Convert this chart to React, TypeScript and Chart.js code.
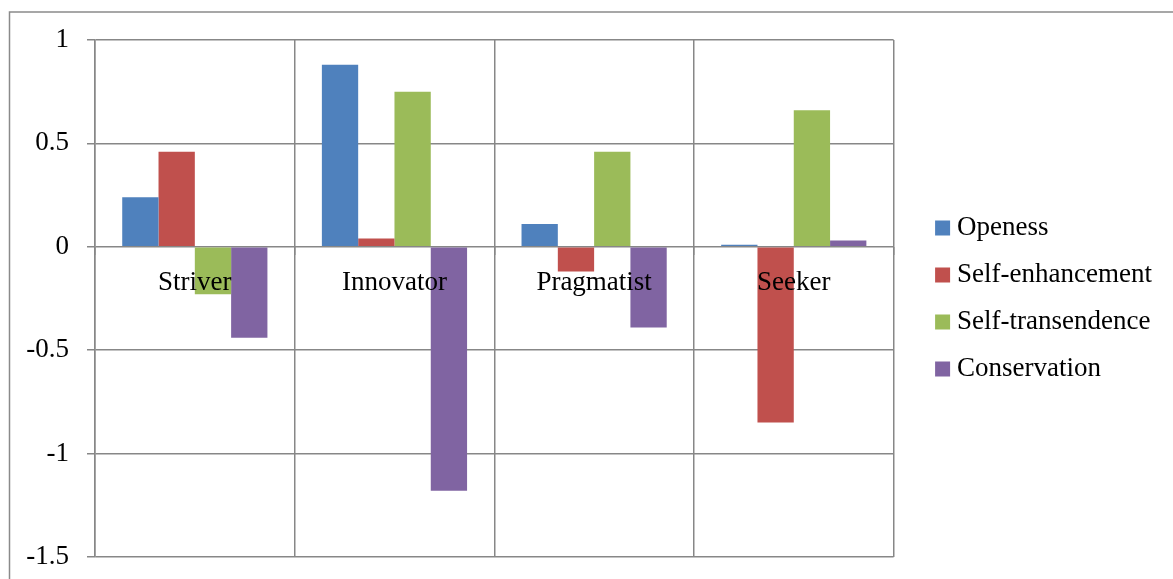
import React, { useEffect, useRef } from "react";
import { Chart, registerables } from "chart.js";

Chart.register(...registerables);

// ---- data ----
const categories = ["Striver", "Innovator", "Pragmatist", "Seeker"];
const seriesNames = ["Openess", "Self-enhancement", "Self-transendence", "Conservation"];
const openess = [0.24, 0.88, 0.11, 0.01];
const selfEnhancement = [0.46, 0.04, -0.12, -0.85];
const selfTransendence = [-0.23, 0.75, 0.46, 0.66];
const conservation = [-0.44, -1.18, -0.39, 0.03];
const yTickValues = [-1.5, -1, -0.5, 0, 0.5, 1];
const seriesColors = ["#4F81BD", "#C0504D", "#9BBB59", "#8064A2"];

const W = 1173;
const H = 579;
const GRID = "#878787";
const FONT = { family: "'Liberation Serif', 'Times New Roman', serif", size: 27 };

const framePlugin = {
  id: "frame",
  beforeDraw(chart: any) {
    const ctx = chart.ctx;
    ctx.save();
    ctx.fillStyle = "#ffffff";
    ctx.fillRect(0, 0, chart.width, chart.height);
    ctx.strokeStyle = "#8a8a8a";
    ctx.lineWidth = 1.5;
    ctx.strokeRect(9.5, 12, chart.width + 20, chart.height + 20);
    ctx.restore();
  },
};

export default function App() {
  const ref = useRef<HTMLCanvasElement | null>(null);

  useEffect(() => {
    if (!ref.current) return;
    const values = [openess, selfEnhancement, selfTransendence, conservation];
    const chart = new Chart(ref.current, {
      type: "bar",
      data: {
        labels: categories,
        datasets: seriesNames.map((name, i) => ({
          label: name,
          data: values[i],
          backgroundColor: seriesColors[i],
          borderWidth: 0,
          categoryPercentage: 4 / 5.5,
          barPercentage: 1,
        })),
      },
      options: {
        animation: false,
        responsive: false,
        layout: { padding: { left: 0, top: 40, right: 11, bottom: 22 } },
        plugins: {
          tooltip: { enabled: false },
          legend: {
            position: "right",
            align: "center",
            maxWidth: 400,
            labels: {
              font: FONT,
              color: "#000000",
              padding: 20,
              boxWidth: 2,
              boxHeight: 2,
              generateLabels: (c: any) =>
                c.data.datasets.map((ds: any, i: number) => ({
                  text: ds.label,
                  fillStyle: ds.backgroundColor,
                  strokeStyle: ds.backgroundColor,
                  lineWidth: 13,
                  lineJoin: "miter",
                  hidden: false,
                  datasetIndex: i,
                })),
            },
          },
        },
        scales: {
          x: {
            type: "category",
            position: { y: 0 } as any,
            grid: {
              offset: true,
              color: GRID,
              lineWidth: 1.5,
              tickLength: 8,
              drawTicks: true,
            },
            border: { display: false },
            ticks: {
              z: 1,
              color: "#000000",
              font: FONT,
              padding: 12,
              maxRotation: 0,
              autoSkip: false,
            },
          },
          y: {
            type: "linear",
            min: yTickValues[0],
            max: yTickValues[yTickValues.length - 1],
            afterFit: (s: any) => {
              s.width = 95;
              s.paddingTop = 0;
              s.paddingBottom = 0;
            },
            afterBuildTicks: (s: any) => {
              s.ticks = yTickValues.map((v) => ({ value: v }));
            },
            grid: { color: GRID, lineWidth: 1.5, tickLength: 8 },
            border: { color: GRID, width: 1.5 },
            ticks: {
              color: "#000000",
              font: FONT,
              padding: 18,
              callback: (v: any) => String(v),
            },
          },
          spacer: {
            type: "linear",
            position: "right",
            display: true,
            grid: { display: false, drawTicks: false },
            border: { display: false },
            ticks: { display: false },
            afterFit: (s: any) => {
              s.width = 28;
              s.paddingTop = 0;
              s.paddingBottom = 0;
            },
          },
        },
      },
      plugins: [framePlugin],
    } as any);
    return () => chart.destroy();
  }, []);

  return (
    <div style={{ position: "fixed", left: 0, top: 0, width: W, height: H, background: "#fff" }}>
      <canvas ref={ref} width={W} height={H} style={{ display: "block" }} />
    </div>
  );
}
